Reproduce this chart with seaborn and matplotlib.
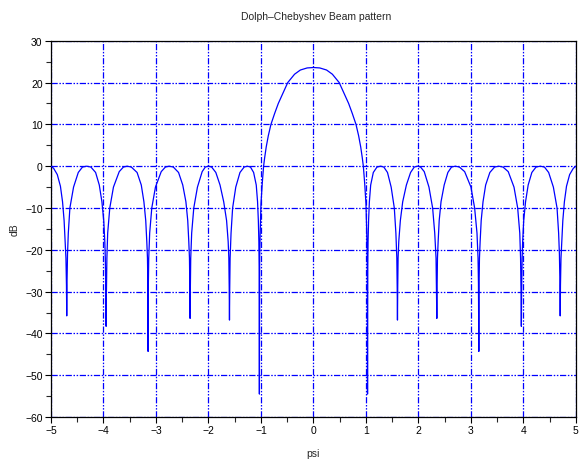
import matplotlib
matplotlib.use("Agg")
import matplotlib.pyplot as plt
import seaborn as sns
from matplotlib.ticker import MultipleLocator

# Dolph-Chebyshev beam pattern (psi, dB)
psi_left = [-5.00, -4.95, -4.88, -4.82, -4.78, -4.75, -4.73, -4.715, -4.705, -4.700,
            -4.695, -4.685, -4.67, -4.64, -4.57, -4.48, -4.40, -4.32,
            -4.24, -4.15, -4.08, -4.03, -3.995, -3.975, -3.965, -3.955, -3.950,
            -3.945, -3.935, -3.92, -3.88, -3.81, -3.70, -3.62, -3.55,
            -3.47, -3.36, -3.28, -3.23, -3.195, -3.175, -3.162, -3.155, -3.150,
            -3.145, -3.138, -3.12, -3.08, -3.01, -2.90, -2.82, -2.75,
            -2.67, -2.57, -2.49, -2.43, -2.395, -2.375, -2.362, -2.355, -2.350,
            -2.345, -2.338, -2.32, -2.28, -2.21, -2.12, -2.06, -2.00,
            -1.94, -1.86, -1.78, -1.71, -1.655, -1.625, -1.612, -1.605, -1.600,
            -1.595, -1.588, -1.57, -1.54, -1.48, -1.40, -1.32, -1.26,
            -1.20, -1.14, -1.09, -1.065, -1.05, -1.04, -1.035, -1.030]
db_left = [0.0, -0.5, -2.0, -4.8, -8.5, -13, -18, -22, -28.5, -35.8,
           -28, -21, -16, -10, -5, -1.5, -0.2, 0.0,
           -0.2, -1.5, -4.5, -8.5, -13, -18, -22, -30, -38.3,
           -31, -22, -16, -10, -5, -1.3, -0.2, 0.0,
           -0.2, -1.5, -4.5, -8.5, -13, -18, -22, -28, -44.3,
           -28, -22, -16, -10, -5, -1.3, -0.2, 0.0,
           -0.2, -1.5, -4.5, -8.5, -13, -18, -22, -29, -36.4,
           -29, -22, -16, -10, -5, -1.3, -0.2, 0.0,
           -0.2, -1.5, -4.5, -8.5, -13, -18, -22, -29, -36.8,
           -29, -22, -16, -10, -5, -1.5, -0.2, 0.0,
           -0.2, -1.5, -4.5, -8.5, -13, -18, -24, -54.5]

psi_main = [-1.025, -1.015, -1.00, -0.975, -0.95, -0.93, -0.90, -0.86, -0.81,
            -0.74, -0.67, -0.58, -0.49, -0.36, -0.25, -0.12, 0.00,
            0.12, 0.25, 0.36, 0.49, 0.58, 0.67, 0.74, 0.81,
            0.86, 0.90, 0.93, 0.95, 0.975, 1.00, 1.015, 1.025]
db_main = [-22, -16, -9, -4, 0, 2, 4.6, 7.3, 10,
           12.6, 15, 17.5, 20.0, 22.0, 23.0, 23.5, 23.6,
           23.5, 23.0, 22.0, 20.0, 17.5, 15, 12.6, 10,
           7.3, 4.6, 2, 0, -4, -9, -16, -22]

psi_right = [1.030, 1.035, 1.04, 1.05, 1.065, 1.09, 1.14, 1.21, 1.28,
             1.34, 1.41, 1.48, 1.54, 1.57, 1.588, 1.595, 1.600,
             1.605, 1.612, 1.625, 1.655, 1.70, 1.77, 1.85, 1.92, 1.98,
             2.04, 2.11, 2.20, 2.27, 2.31, 2.335, 2.343, 2.350,
             2.355, 2.362, 2.375, 2.395, 2.43, 2.49, 2.56, 2.63, 2.70,
             2.78, 2.88, 3.00, 3.07, 3.115, 3.135, 3.143, 3.150,
             3.155, 3.162, 3.175, 3.195, 3.23, 3.28, 3.36, 3.45, 3.53,
             3.61, 3.71, 3.82, 3.89, 3.93, 3.945, 3.955, 3.960,
             3.965, 3.975, 3.985, 4.005, 4.04, 4.09, 4.16, 4.24, 4.32,
             4.40, 4.48, 4.57, 4.64, 4.67, 4.685, 4.695, 4.700,
             4.705, 4.715, 4.73, 4.75, 4.78, 4.82, 4.88, 4.95, 5.00]
db_right = [-54.5, -24, -18, -13, -8.5, -4.5, -1.5, -0.2, 0.0,
            -0.2, -1.5, -5, -10, -16, -22, -29, -36.8,
            -29, -22, -18, -13, -8.5, -4.5, -1.5, -0.2, 0.0,
            -0.2, -1.3, -5, -10, -16, -22, -29, -36.4,
            -29, -22, -18, -13, -8.5, -4.5, -1.5, -0.2, 0.0,
            -0.2, -1.3, -5, -10, -16, -22, -28, -44.3,
            -28, -22, -18, -13, -8.5, -4.5, -1.5, -0.2, 0.0,
            -0.2, -1.3, -5, -10, -16, -22, -31, -38.3,
            -30, -22, -18, -13, -8.5, -4.5, -1.5, -0.2, 0.0,
            -0.2, -1.5, -5, -10, -16, -21, -28, -35.8,
            -28.5, -22, -18, -13, -8.5, -4.8, -2.0, -0.5, 0.0]

psi = psi_left + psi_main + psi_right
db = db_left + db_main + db_right

sns.set_style("ticks")
plt.rcParams['font.family'] = ['Liberation Sans', 'DejaVu Sans']

fig = plt.figure(figsize=(5.82, 4.64), dpi=100)
ax = fig.add_axes([0.0876, 0.099, 0.902, 0.811])

sns.lineplot(x=psi, y=db, ax=ax, color='#0000ff', linewidth=0.9,
             estimator=None, sort=False, zorder=3)

ax.set_xlim(-5, 5)
ax.set_ylim(-60, 30)
ax.xaxis.set_major_locator(MultipleLocator(1))
ax.xaxis.set_minor_locator(MultipleLocator(0.5))
ax.yaxis.set_major_locator(MultipleLocator(10))
ax.yaxis.set_minor_locator(MultipleLocator(5))
ax.grid(True, which='major', color='#0000ff', linewidth=0.9,
        linestyle=(0, (5, 1.3, 1.2, 1.3, 1.2, 1.3)), zorder=1)
ax.tick_params(which='major', direction='out', length=4, width=0.8,
               labelsize=7.5, colors='black', pad=2)
ax.tick_params(which='minor', direction='out', length=3.5, width=0.8)
for s in ax.spines.values():
    s.set_color('black')
    s.set_linewidth(0.9)

ax.set_xlabel('psi', fontsize=7.5, labelpad=9)
ax.set_ylabel('dB', fontsize=7.5, labelpad=4)
fig.text(0.543, 0.963, 'Dolph\u2013Chebyshev Beam pattern', ha='center',
         va='center', fontsize=7.5)

fig.savefig('out.png', dpi=100)
